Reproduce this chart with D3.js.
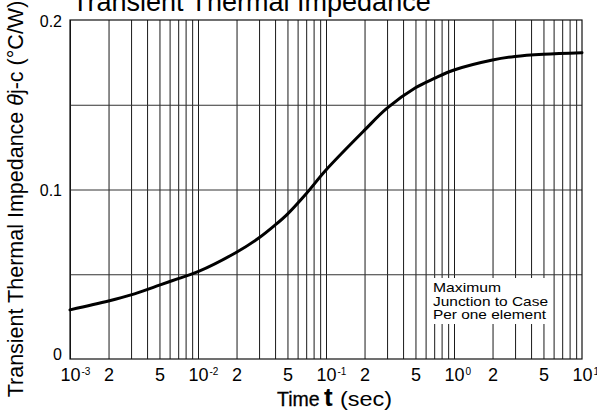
<!DOCTYPE html>
<html><head><meta charset="utf-8">
<script src="https://cdn.jsdelivr.net/npm/d3@7"></script>
<style>
body{margin:0;background:#fff}
svg{display:block;font-family:"Liberation Sans",Arial,Helvetica,sans-serif}
</style>
</head><body>
<svg id="c" width="597" height="412"></svg>
<script>
// ---- data ----
const times     = [0.001,0.002,0.003,0.005,0.007,0.01,0.02,0.03,0.04,0.05,0.07,0.1,0.2,0.3,0.5,0.7,1,2,3,5,10];
const impedance = [0.0290,0.0342,0.0378,0.0436,0.0474,0.0515,0.0630,0.0715,0.0790,0.0855,0.0975,0.1115,0.1350,0.1480,0.1600,0.1655,0.1705,0.1764,0.1785,0.1798,0.1807];
const xTickValues = [0.001,0.002,0.005,0.01,0.02,0.05,0.1,0.2,0.5,1,2,5,10];
const xTickBase   = ["10","2","5","10","2","5","10","2","5","10","2","5","10"];
const xTickExp    = ["-3","","","-2","","","-1","","","0","","","1"];
const yTickValues = [0,0.1,0.2];
const yTickLabels = ["0","0.1","0.2"];
const yGridValues = [0.05,0.1,0.15];
const noteLines   = ["Maximum","Junction to Case","Per one element"];
const titleText   = "Transient Thermal Impedance";

// ---- layout ----
const svg = d3.select("#c");
const L = 70, R = 582, T = 20, B = 359;
const x = d3.scaleLog().domain([0.001,10]).range([L,R]);
const y = d3.scaleLinear().domain([0,0.2]).range([B,T]);

// minor grid values
const gridX = [];
for (let e=-3;e<1;e++) for (let m=1;m<10;m++) gridX.push(m*Math.pow(10,e));

// vertical grid via axis
const gx = svg.append("g").attr("transform",`translate(0,${B})`)
  .call(d3.axisBottom(x).tickValues(gridX).tickSize(-(B-T)).tickFormat(""));
gx.select(".domain").remove();
gx.selectAll("line").attr("stroke","#1a1a1a").attr("stroke-width",1);

// horizontal grid via axis
const gy = svg.append("g").attr("transform",`translate(${L},0)`)
  .call(d3.axisLeft(y).tickValues(yGridValues).tickSize(-(R-L)).tickFormat(""));
gy.select(".domain").remove();
gy.selectAll("line").attr("stroke","#333").attr("stroke-width",1);

// frame
svg.append("rect").attr("x",L).attr("y",T).attr("width",R-L).attr("height",B-T)
  .attr("fill","none").attr("stroke","#111").attr("stroke-width",1.2);

// note box
const note = svg.append("g");
note.append("rect").attr("x",432).attr("y",278).attr("width",117).attr("height",46).attr("fill","#fff");
const noteW = [68,115,113];
noteLines.forEach((t,i)=>{
  note.append("text").attr("x",433).attr("y",292+i*13.7)
    .attr("font-size",13).attr("fill","#000")
    .attr("textLength",noteW[i]).attr("lengthAdjust","spacingAndGlyphs")
    .text(t);
});

// curve
const line = d3.line().x(d=>x(d[0])).y(d=>y(d[1])).curve(d3.curveCatmullRom.alpha(0.5));
svg.append("path").datum(times.map((t,i)=>[t,impedance[i]]))
  .attr("d",line).attr("fill","none").attr("stroke","#000").attr("stroke-width",3)
  .attr("stroke-linecap","round");

// x tick labels via axis
const xa = svg.append("g").attr("transform",`translate(0,${B})`)
  .call(d3.axisBottom(x).tickValues(xTickValues).tickSize(0).tickPadding(0).tickFormat((d,i)=>xTickBase[i]));
xa.select(".domain").remove();
xa.selectAll("text").attr("font-size",18).attr("font-family",null).attr("fill","#000")
  .attr("y",22).attr("dy",null)
  .each(function(d,i){
    if (!xTickExp[i]) return;
    const w = this.getComputedTextLength();
    d3.select(this.parentNode).append("text")
      .attr("x", w/2 + 1).attr("y",16).attr("font-size",10).attr("fill","#000")
      .attr("text-anchor","start").text(xTickExp[i]);
  });

// y tick labels via axis
const ya = svg.append("g").attr("transform",`translate(${L},0)`)
  .call(d3.axisLeft(y).tickValues(yTickValues).tickSize(0).tickPadding(8).tickFormat((d,i)=>yTickLabels[i]));
ya.select(".domain").remove();
ya.selectAll("text").attr("font-size",16).attr("font-family",null).attr("fill","#000")
  .attr("dy",null).attr("y",d=> d===0 ? 0 : 6);

// title
svg.append("text").attr("x",72).attr("y",11).attr("font-size",27).attr("fill","#000").text(titleText);

// x title
const xt = svg.append("g");
xt.append("text").attr("x",277).attr("y",406).attr("font-size",19.5).attr("fill","#000")
  .attr("stroke","#000").attr("stroke-width",0.3).text("Time");
xt.append("text").attr("x",324).attr("y",406).attr("font-size",26).attr("font-weight","bold").attr("fill","#000").text("t");
xt.append("text").attr("x",340).attr("y",406).attr("font-size",21).attr("fill","#000")
  .attr("textLength",52).attr("lengthAdjust","spacingAndGlyphs").text("(sec)");

// y title
const yt = svg.append("text").attr("transform","translate(23,199) rotate(-90)")
  .attr("text-anchor","middle").attr("font-size",21.5).attr("fill","#000");
yt.append("tspan").text("Transient Thermal Impedance ");
yt.append("tspan").attr("font-style","italic").text("θ");
yt.append("tspan").text("j-c (°C/W)");
</script>
</body></html>
